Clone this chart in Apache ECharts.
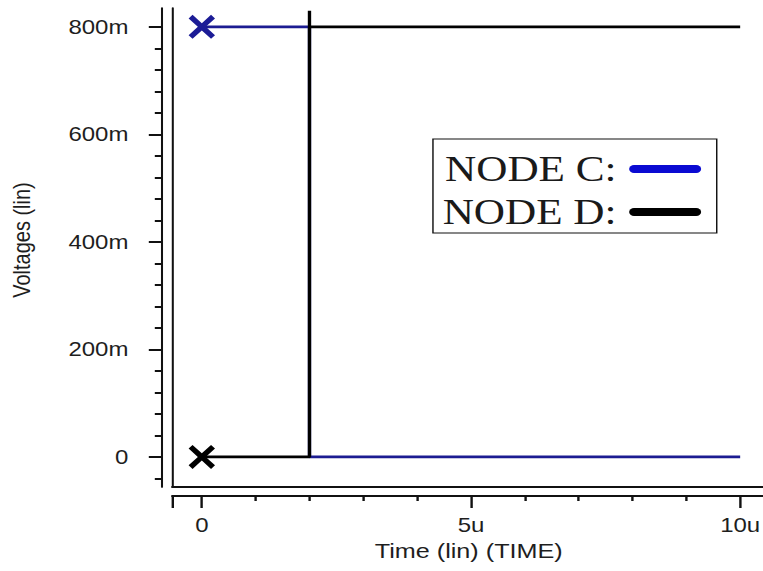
<!DOCTYPE html>
<html>
<head>
<meta charset="utf-8">
<script src="https://cdn.jsdelivr.net/npm/echarts@6/dist/echarts.min.js"></script>
<style>
  html, body { margin: 0; padding: 0; background: #ffffff; overflow: hidden; }
  /* The plot is laid out on a narrower canvas and widened 1.2x, giving the stretched look of the original waveform viewer;
     the time axis runs on past the right edge of the window */
  #chart { width: 690px; height: 571px; transform: scaleX(1.2); transform-origin: 0 0; }
</style>
</head>
<body>
<div id="chart"></div>
<script>
// Transient results: time in microseconds, voltages in millivolts
const timeC  = [0, 2, 2, 10];
const nodeC  = [800, 800, 0, 0];
const timeD  = [0, 2, 2, 2, 10];
const nodeD  = [0, 0, 830, 800, 800];

const seriesNames = ['NODE C:', 'NODE D:'];

// Axis ticks and labels
const xMajorTicks = [-0.55, 0, 5, 10];
const xLabelValues = [0, 5, 10];
const xMinorTicks = [1, 2, 3, 4, 6, 7, 8, 9];
const yLabelValues = [0, 200, 400, 600, 800];
const yMinorTicks = [-40, 40, 80, 120, 160, 240, 280, 320, 360, 440, 480, 520, 560, 640, 680, 720, 760];

const X_MIN = -0.55, X_MAX = 11.0;
const Y_MIN = -56, Y_MAX = 835;

const pairs = (xs, ys) => xs.map((x, i) => [x, ys[i]]);

// Filled "X" marker used at the first sample of each trace
const xMark = 'path://M0,3 L3,0 L10,7 L17,0 L20,3 L13,10 L20,17 L17,20 L10,13 L3,20 L0,17 L7,10 Z';
const capsule = 'path://M4,0 L56,0 A4,4 0 0 1 56,8 L4,8 A4,4 0 0 1 4,0 Z';

const sansFont = '"Liberation Sans", Arial, sans-serif';
const serifFont = '"Liberation Serif", "Times New Roman", serif';
const textColor = '#1e1e1e';

const hidden = { show: false };
const noLine = { show: false, onZero: false };

const frameAxisX = {
  type: 'value', position: 'bottom', min: X_MIN, max: X_MAX,
  axisLine: { show: true, onZero: false, lineStyle: { color: '#111', width: 2 } },
  axisTick: hidden, axisLabel: hidden, splitLine: hidden
};
const scaleAxisX = {
  type: 'value', position: 'bottom', offset: 9, min: X_MIN, max: X_MAX,
  axisLine: { show: true, onZero: false, lineStyle: { color: '#111', width: 2 } },
  axisTick: { show: true, customValues: xMajorTicks, length: 12, lineStyle: { color: '#111', width: 2 } },
  axisLabel: {
    show: true, customValues: xLabelValues, margin: 19,
    fontFamily: sansFont, fontSize: 20, color: textColor,
    formatter: v => (v === 0 ? '0' : v + 'u')
  },
  splitLine: hidden,
  name: 'Time (lin) (TIME)', nameLocation: 'middle', nameGap: 43,
  nameTextStyle: { fontFamily: sansFont, fontSize: 21, color: textColor, padding: [0, 24, 0, 0] }
};
const minorAxisX = {
  type: 'value', position: 'bottom', offset: 9, min: X_MIN, max: X_MAX,
  axisLine: noLine,
  axisTick: { show: true, customValues: xMinorTicks, length: 5, lineStyle: { color: '#111', width: 2 } },
  axisLabel: hidden, splitLine: hidden
};

const frameAxisY = {
  type: 'value', position: 'left', min: Y_MIN, max: Y_MAX,
  axisLine: { show: true, onZero: false, lineStyle: { color: '#111', width: 1.7 } },
  axisTick: hidden, axisLabel: hidden, splitLine: hidden
};
const scaleAxisY = {
  type: 'value', position: 'left', offset: 8.5, min: Y_MIN, max: Y_MAX,
  axisLine: { show: true, onZero: false, lineStyle: { color: '#111', width: 1.7 } },
  axisTick: { show: true, customValues: yLabelValues, length: 11, lineStyle: { color: '#111', width: 2 } },
  axisLabel: {
    show: true, customValues: yLabelValues, margin: 28,
    fontFamily: sansFont, fontSize: 20, color: textColor,
    formatter: v => (v === 0 ? '0' : v + 'm')
  },
  splitLine: hidden,
  name: 'Voltages (lin)', nameLocation: 'middle', nameGap: 107,
  nameTextStyle: { fontFamily: sansFont, fontSize: 20, color: textColor, padding: [0, 0, 0, 15] }
};
const minorAxisY = {
  type: 'value', position: 'left', offset: 8.5, min: Y_MIN, max: Y_MAX,
  axisLine: noLine,
  axisTick: { show: true, customValues: yMinorTicks, length: 6, lineStyle: { color: '#111', width: 2 } },
  axisLabel: hidden, splitLine: hidden
};

const chart = echarts.init(document.getElementById('chart'), null, { renderer: 'svg' });
chart.setOption({
  animation: false,
  backgroundColor: '#ffffff',
  grid: { left: 141.92, top: 8, width: 519.75, height: 479, containLabel: false },
  xAxis: [frameAxisX, scaleAxisX, minorAxisX],
  yAxis: [frameAxisY, scaleAxisY, minorAxisY],
  legend: {
    orient: 'vertical',
    left: 360.8, top: 139,
    align: 'right',
    selectedMode: false,
    icon: capsule,
    itemWidth: 61, itemHeight: 8, itemGap: 3,
    padding: [10, 13, 1, 8],
    borderColor: '#111', borderWidth: 1.2,
    backgroundColor: '#ffffff',
    textStyle: { fontFamily: serifFont, fontSize: 36, color: '#1a1a1a', lineHeight: 40, padding: [0, 5, 0, 0] },
    itemStyle: { borderWidth: 0 },
    data: [
      { name: seriesNames[0], itemStyle: { color: '#0a0ad2' } },
      { name: seriesNames[1], itemStyle: { color: '#000000' } }
    ]
  },
  series: [
    {
      name: seriesNames[0], type: 'line',
      xAxisIndex: 0, yAxisIndex: 0,
      data: pairs(timeC, nodeC),
      color: '#1c1c92',
      lineStyle: { color: '#1c1c92', width: 2.8 },
      symbol: xMark,
      symbolSize: (v, p) => (p.dataIndex === 0 ? [22, 24] : 0),
      itemStyle: { color: '#1c1c96', borderWidth: 0 },
      emphasis: { disabled: true }
    },
    {
      name: seriesNames[1], type: 'line',
      xAxisIndex: 0, yAxisIndex: 0,
      data: pairs(timeD, nodeD),
      color: '#000000',
      lineStyle: { color: '#000000', width: 2.8 },
      symbol: xMark,
      symbolSize: (v, p) => (p.dataIndex === 0 ? [22, 24] : 0),
      itemStyle: { color: '#000000', borderWidth: 0 },
      emphasis: { disabled: true }
    }
  ]
});
</script>
</body>
</html>
